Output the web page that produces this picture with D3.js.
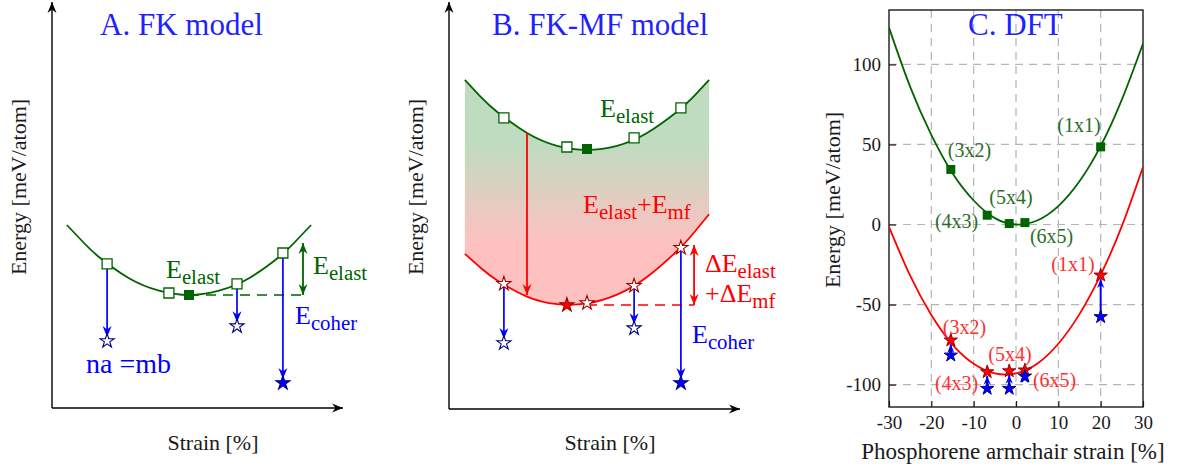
<!DOCTYPE html>
<html>
<head>
<meta charset="utf-8">
<script src="https://cdn.jsdelivr.net/npm/d3@7"></script>
<style>
  body { margin: 0; background: #fff; }
</style>
</head>
<body>
<svg id="fig" width="1178" height="471"></svg>
<script>
// ---------- A. FK model (schematic units) ----------
const curveStrainA = [-4.07, -3.5, -3, -2, -1, 0, 1, 2, 3, 3.5, 4.07];
const curveElastA  = [1.75, 1.30, 0.95, 0.42, 0.11, 0, 0.11, 0.42, 0.95, 1.30, 1.75];
const cellStrainA  = [-2.73, -0.67, 1.6, 3.13];
const cellElastA   = [0.78, 0.05, 0.28, 1.05];
const bestA        = [0, 0];               // filled square (strain, energy)
const coherStrainA = [-2.73, 1.6, 3.13];
const coherFromA   = [0.78, 0.28, 1.05];
const coherToA     = [-1.15, -0.78, -2.2];
const coherBestA   = [false, false, true];
const refEndA = 3.8, gapTopA = 1.3;

// ---------- B. FK-MF model (schematic units) ----------
const curveStrainB = [-4.07, -3.5, -3, -2, -1, 0, 1, 2, 3, 3.5, 4.07];
const curveElastB  = [5.63, 5.17, 4.83, 4.30, 3.98, 3.88, 3.98, 4.30, 4.83, 5.17, 5.63];
const curveTotalB  = [1.28, 0.90, 0.62, 0.21, 0.02, 0.04, 0.26, 0.70, 1.35, 1.75, 2.27];
const cellStrainB  = [-2.77, -0.67, 1.57, 3.13];
const cellElastB   = [4.68, 3.95, 4.18, 4.93];
const bestElastB   = [0, 3.9];
const mfStrainB    = [-2.77, 0, 1.57, 3.13];
const mfTotalB     = [0.53, 0.05, 0.48, 1.43];
const bestTotalB   = [-0.67, 0];
const coherStrainB = [-2.77, 1.57, 3.13];
const coherToB     = [-0.95, -0.58, -1.95];
const coherBestB   = [false, false, true];
const mfArrowB = [-2.0, 4.3, 0.25];        // strain, from, to
const refEndB = 3.57, gapTopB = 1.5;

// ---------- C. DFT ----------
const cellsC   = ["(3x2)", "(4x3)", "(5x4)", "(6x5)", "(1x1)"];
const strainC  = [-15.4, -6.8, -1.6, 2.1, 20.0];
const elastC   = [34.4, 5.8, 0.6, 1.2, 48.5];
const totalC   = [-72.3, -92.1, -91.5, -91.0, -31.7];
const coherC   = [-81.7, -102.5, -102.5, -94.8, -57.7];
const fitStrainC = [-30, -25, -20, -15, -10, -5, 0, 5, 10, 15, 20, 25, 30];
const fitElastC  = [123, 86, 56, 32, 15, 4, 0, 2.5, 11.5, 27, 49, 78, 113];
const fitTotalC  = [-1.5, -32, -56.5, -75, -87, -93, -93, -87, -74.5, -56, -31.5, -1, 36];
const xTicksC = [-30, -20, -10, 0, 10, 20, 30];
const yTicksC = [-100, -50, 0, 50, 100];

const FONT = "Liberation Serif";
const svg = d3.select("#fig");
const defs = svg.append("defs");

const GREEN = "#006400", RED = "#ff0000", BLUE = "#0000ff";
const NAVY = "#000080", DRED = "#990000", TITLE = "#1f1fff", INK = "#1a1a1a";

function arrowMarker(id, color, s) {
  defs.append("marker")
    .attr("id", id)
    .attr("viewBox", "-12 -6 13 12")
    .attr("refX", 0).attr("refY", 0)
    .attr("markerWidth", 13 * s).attr("markerHeight", 12 * s)
    .attr("markerUnits", "userSpaceOnUse")
    .attr("orient", "auto-start-reverse")
    .append("path")
    .attr("d", "M0,0 L-11,-4.5 L-7.5,0 L-11,4.5 Z")
    .attr("fill", color);
}
arrowMarker("arK", "#000", 1);
arrowMarker("arG", GREEN, 1);
arrowMarker("arR", RED, 1);
arrowMarker("arB", BLUE, 1);
arrowMarker("arBs", BLUE, 0.8);

const grad = defs.append("linearGradient").attr("id", "fillB")
  .attr("gradientUnits", "userSpaceOnUse")
  .attr("x1", 0).attr("y1", 145).attr("x2", 0).attr("y2", 245);
grad.append("stop").attr("offset", 0).attr("stop-color", "#c0dcc0");
grad.append("stop").attr("offset", 1).attr("stop-color", "#ffc0c0");

const line = d3.line().curve(d3.curveNatural);
const star = s => d3.symbol(d3.symbolStar, s)();
const square = s => d3.symbol(d3.symbolSquare, s)();

function txt(x, y, size, color) {
  return svg.append("text").attr("font-family", FONT)
    .attr("x", x).attr("y", y).attr("font-size", size).attr("fill", color);
}

// E with subscripts: parts = [[text, isSub], ...]
function label(x, y, parts, color, size) {
  const t = txt(x, y, size, color);
  let down = false;
  parts.forEach(([s, sub]) => {
    const ts = t.append("tspan").text(s);
    if (sub) {
      ts.attr("font-size", size * 0.8);
      if (!down) { ts.attr("dy", size * 0.24); down = true; }
    } else if (down) { ts.attr("dy", -size * 0.24); down = false; }
  });
  return t;
}

function frame(g, x0, y0, x1, y1) {
  g.append("line").attr("x1", x0).attr("y1", y0).attr("x2", x1).attr("y2", y0)
    .attr("stroke", "#000").attr("stroke-width", 1.4).attr("marker-end", "url(#arK)");
  g.append("line").attr("x1", x0).attr("y1", y0).attr("x2", x0).attr("y2", y1)
    .attr("stroke", "#000").attr("stroke-width", 1.4).attr("marker-end", "url(#arK)");
}

function axisTitles(cx, by, rx, ry, xText, size) {
  txt(cx, by, size, INK).attr("text-anchor", "middle").text(xText);
  txt(0, 0, 22, INK).attr("transform", `translate(${rx},${ry}) rotate(-90)`)
    .attr("text-anchor", "middle").text("Energy [meV/atom]");
}

// ================= Panel A =================
const xA = d3.scaleLinear().domain([-5, 5]).range([39, 339]);
const yA = d3.scaleLinear().domain([-3, 7]).range([415, 15]);
const gA = svg.append("g");
frame(gA, 52, 408, 343, 2);

gA.append("path")
  .attr("d", line(curveStrainA.map((u, i) => [xA(u), yA(curveElastA[i])])))
  .attr("fill", "none").attr("stroke", GREEN).attr("stroke-width", 1.8);

gA.append("line").attr("x1", xA(bestA[0])).attr("x2", xA(refEndA))
  .attr("y1", yA(bestA[1])).attr("y2", yA(bestA[1]))
  .attr("stroke", GREEN).attr("stroke-width", 1.6).attr("stroke-dasharray", "10,7");
gA.append("line").attr("x1", xA(refEndA)).attr("x2", xA(refEndA))
  .attr("y1", yA(bestA[1])).attr("y2", yA(gapTopA))
  .attr("stroke", GREEN).attr("stroke-width", 1.8)
  .attr("marker-start", "url(#arG)").attr("marker-end", "url(#arG)");

coherStrainA.forEach((u, i) => {
  gA.append("line").attr("x1", xA(u)).attr("x2", xA(u))
    .attr("y1", yA(coherFromA[i])).attr("y2", yA(coherToA[i]) - 4)
    .attr("stroke", BLUE).attr("stroke-width", 1.7).attr("marker-end", "url(#arB)");
});

gA.selectAll(".sq").data(cellStrainA).join("path")
  .attr("transform", (u, i) => `translate(${xA(u)},${yA(cellElastA[i])})`)
  .attr("d", square(100)).attr("fill", "#fff").attr("stroke", GREEN).attr("stroke-width", 1.3);
gA.append("path").attr("transform", `translate(${xA(bestA[0])},${yA(bestA[1])})`)
  .attr("d", square(100)).attr("fill", GREEN);

gA.selectAll(".st").data(coherStrainA).join("path")
  .attr("transform", (u, i) => `translate(${xA(u)},${yA(coherToA[i])})`)
  .attr("d", star(62))
  .attr("fill", (u, i) => coherBestA[i] ? BLUE : "#fff")
  .attr("stroke", NAVY).attr("stroke-width", 1.1);

// ================= Panel B =================
const xB = d3.scaleLinear().domain([-5, 5]).range([437, 737]);
const yB = d3.scaleLinear().domain([-3, 7]).range([425, 25]);
const gB = svg.append("g");
frame(gB, 449, 409, 740, 2);

const areaB = d3.area().curve(d3.curveNatural)
  .x((u) => xB(u))
  .y0((u, i) => yB(curveTotalB[i]))
  .y1((u, i) => yB(curveElastB[i]));
gB.append("path").attr("d", areaB(curveStrainB)).attr("fill", "url(#fillB)");

gB.append("path")
  .attr("d", line(curveStrainB.map((u, i) => [xB(u), yB(curveElastB[i])])))
  .attr("fill", "none").attr("stroke", GREEN).attr("stroke-width", 1.8);
gB.append("path")
  .attr("d", line(curveStrainB.map((u, i) => [xB(u), yB(curveTotalB[i])])))
  .attr("fill", "none").attr("stroke", RED).attr("stroke-width", 1.8);

gB.append("line").attr("x1", xB(mfArrowB[0])).attr("x2", xB(mfArrowB[0]))
  .attr("y1", yB(mfArrowB[1])).attr("y2", yB(mfArrowB[2]))
  .attr("stroke", RED).attr("stroke-width", 1.8).attr("marker-end", "url(#arR)");

gB.append("line").attr("x1", xB(0)).attr("x2", xB(refEndB))
  .attr("y1", yB(0)).attr("y2", yB(0))
  .attr("stroke", RED).attr("stroke-width", 1.6).attr("stroke-dasharray", "10,7");
gB.append("line").attr("x1", xB(refEndB)).attr("x2", xB(refEndB))
  .attr("y1", yB(0)).attr("y2", yB(gapTopB))
  .attr("stroke", RED).attr("stroke-width", 1.8)
  .attr("marker-start", "url(#arR)").attr("marker-end", "url(#arR)");

coherStrainB.forEach((u, i) => {
  const k = mfStrainB.indexOf(u);
  gB.append("line").attr("x1", xB(u)).attr("x2", xB(u))
    .attr("y1", yB(mfTotalB[k])).attr("y2", yB(coherToB[i]) - 4)
    .attr("stroke", BLUE).attr("stroke-width", 1.7).attr("marker-end", "url(#arB)");
});

gB.selectAll(".sq").data(cellStrainB).join("path")
  .attr("transform", (u, i) => `translate(${xB(u)},${yB(cellElastB[i])})`)
  .attr("d", square(100)).attr("fill", "#fff").attr("stroke", GREEN).attr("stroke-width", 1.3);
gB.append("path").attr("transform", `translate(${xB(bestElastB[0])},${yB(bestElastB[1])})`)
  .attr("d", square(100)).attr("fill", GREEN);

gB.selectAll(".rs").data(mfStrainB).join("path")
  .attr("transform", (u, i) => `translate(${xB(u)},${yB(mfTotalB[i])})`)
  .attr("d", star(62)).attr("fill", "#fff").attr("stroke", DRED).attr("stroke-width", 1.1);
gB.append("path").attr("transform", `translate(${xB(bestTotalB[0])},${yB(bestTotalB[1])})`)
  .attr("d", star(62)).attr("fill", RED).attr("stroke", DRED).attr("stroke-width", 1.1);

gB.selectAll(".bs").data(coherStrainB).join("path")
  .attr("transform", (u, i) => `translate(${xB(u)},${yB(coherToB[i])})`)
  .attr("d", star(62))
  .attr("fill", (u, i) => coherBestB[i] ? BLUE : "#fff")
  .attr("stroke", NAVY).attr("stroke-width", 1.1);

// ================= Panel C =================
const xC = d3.scaleLinear().domain([-30, 30]).range([889, 1143]);
const yC = d3.scaleLinear().domain([-114, 134]).range([407, 10]);
const gC = svg.append("g");

defs.append("clipPath").attr("id", "clipC").append("rect")
  .attr("x", 889).attr("y", 10).attr("width", 254).attr("height", 397);

gC.selectAll(".gx").data(xTicksC.slice(1, -1)).join("line")
  .attr("x1", d => xC(d)).attr("x2", d => xC(d)).attr("y1", 10).attr("y2", 407)
  .attr("stroke", "#b5b5b5").attr("stroke-width", 1.2).attr("stroke-dasharray", "8,6");
gC.selectAll(".gy").data(yTicksC).join("line")
  .attr("y1", d => yC(d)).attr("y2", d => yC(d)).attr("x1", 889).attr("x2", 1143)
  .attr("stroke", "#b5b5b5").attr("stroke-width", 1.2).attr("stroke-dasharray", "8,6");

const axB = gC.append("g").attr("transform", "translate(0,407)")
  .call(d3.axisBottom(xC).tickValues(xTicksC).tickSizeInner(-6).tickSizeOuter(0)
    .tickPadding(9).tickFormat(d => String(d)));
const axL = gC.append("g").attr("transform", "translate(889,0)")
  .call(d3.axisLeft(yC).tickValues(yTicksC).tickSizeInner(-7).tickSizeOuter(0)
    .tickPadding(8).tickFormat(d => String(d)));
[axB, axL].forEach(ax => {
  ax.attr("font-family", FONT).attr("font-size", 19);
  ax.select(".domain").remove();
  ax.selectAll("line").attr("stroke", INK).attr("stroke-width", 1.2);
  ax.selectAll("text").attr("fill", INK);
});
gC.append("rect").attr("x", 889).attr("y", 10).attr("width", 254).attr("height", 397)
  .attr("fill", "none").attr("stroke", INK).attr("stroke-width", 1.4);

const plotC = gC.append("g").attr("clip-path", "url(#clipC)");
plotC.append("path")
  .attr("d", line(fitStrainC.map((s, i) => [xC(s), yC(fitElastC[i])])))
  .attr("fill", "none").attr("stroke", GREEN).attr("stroke-width", 1.8);
plotC.append("path")
  .attr("d", line(fitStrainC.map((s, i) => [xC(s), yC(fitTotalC[i])])))
  .attr("fill", "none").attr("stroke", RED).attr("stroke-width", 1.8);

strainC.forEach((s, i) => {
  gC.append("line").attr("x1", xC(s)).attr("x2", xC(s))
    .attr("y1", yC(coherC[i])).attr("y2", yC(totalC[i]) + 4)
    .attr("stroke", BLUE).attr("stroke-width", 2).attr("marker-end", "url(#arBs)");
});

gC.selectAll(".sq").data(strainC).join("path")
  .attr("transform", (s, i) => `translate(${xC(s)},${yC(elastC[i])})`)
  .attr("d", square(81)).attr("fill", GREEN);
gC.selectAll(".rs").data(strainC).join("path")
  .attr("transform", (s, i) => `translate(${xC(s)},${yC(totalC[i])})`)
  .attr("d", star(55)).attr("fill", RED).attr("stroke", DRED).attr("stroke-width", 1);
gC.selectAll(".bs").data(strainC).join("path")
  .attr("transform", (s, i) => `translate(${xC(s)},${yC(coherC[i])})`)
  .attr("d", star(55)).attr("fill", BLUE).attr("stroke", NAVY).attr("stroke-width", 1);

// ================= text =================
txt(100, 35, 31, TITLE).text("A. FK model");
label(166, 278, [["E"], ["elast", 1]], GREEN, 26);
label(313, 274, [["E"], ["elast", 1]], GREEN, 26);
label(295, 324, [["E"], ["coher", 1]], BLUE, 26);
txt(86, 373, 28, BLUE).text("na =mb");
axisTitles(213, 450, 26, 187, "Strain [%]", 22);

txt(492, 35, 31, TITLE).text("B. FK-MF model");
label(600, 117, [["E"], ["elast", 1]], GREEN, 26);
label(583, 213, [["E"], ["elast", 1], ["+E"], ["mf", 1]], RED, 26);
label(705, 272, [["\u0394E"], ["elast", 1]], RED, 26);
label(705, 302, [["+\u0394E"], ["mf", 1]], RED, 26);
label(692, 343, [["E"], ["coher", 1]], BLUE, 26);
axisTitles(610, 450, 423, 187, "Strain [%]", 22);

// label offsets from each marker (px)
const greenLab = [[-3, -12, "start"], [-9, 13, "end"], [-20, -20, "start"], [5, 20, "start"], [0, -15, "end"]];
const redLab   = [[-8, -6, "start"], [-9, 18, "end"], [-21, -10, "start"], [8, 17, "start"], [-6, -4, "end"]];
cellsC.forEach((c, i) => {
  txt(xC(strainC[i]) + greenLab[i][0], yC(elastC[i]) + greenLab[i][1], 20, "#2a6e2a")
    .attr("text-anchor", greenLab[i][2]).text(c);
  txt(xC(strainC[i]) + redLab[i][0], yC(totalC[i]) + redLab[i][1], 20, "#ff3030")
    .attr("text-anchor", redLab[i][2]).text(c);
});

txt(968, 35, 31, TITLE).text("C. DFT");
axisTitles(1013, 459, 840, 200, "Phosphorene armchair strain [%]", 23);
</script>
</body>
</html>
